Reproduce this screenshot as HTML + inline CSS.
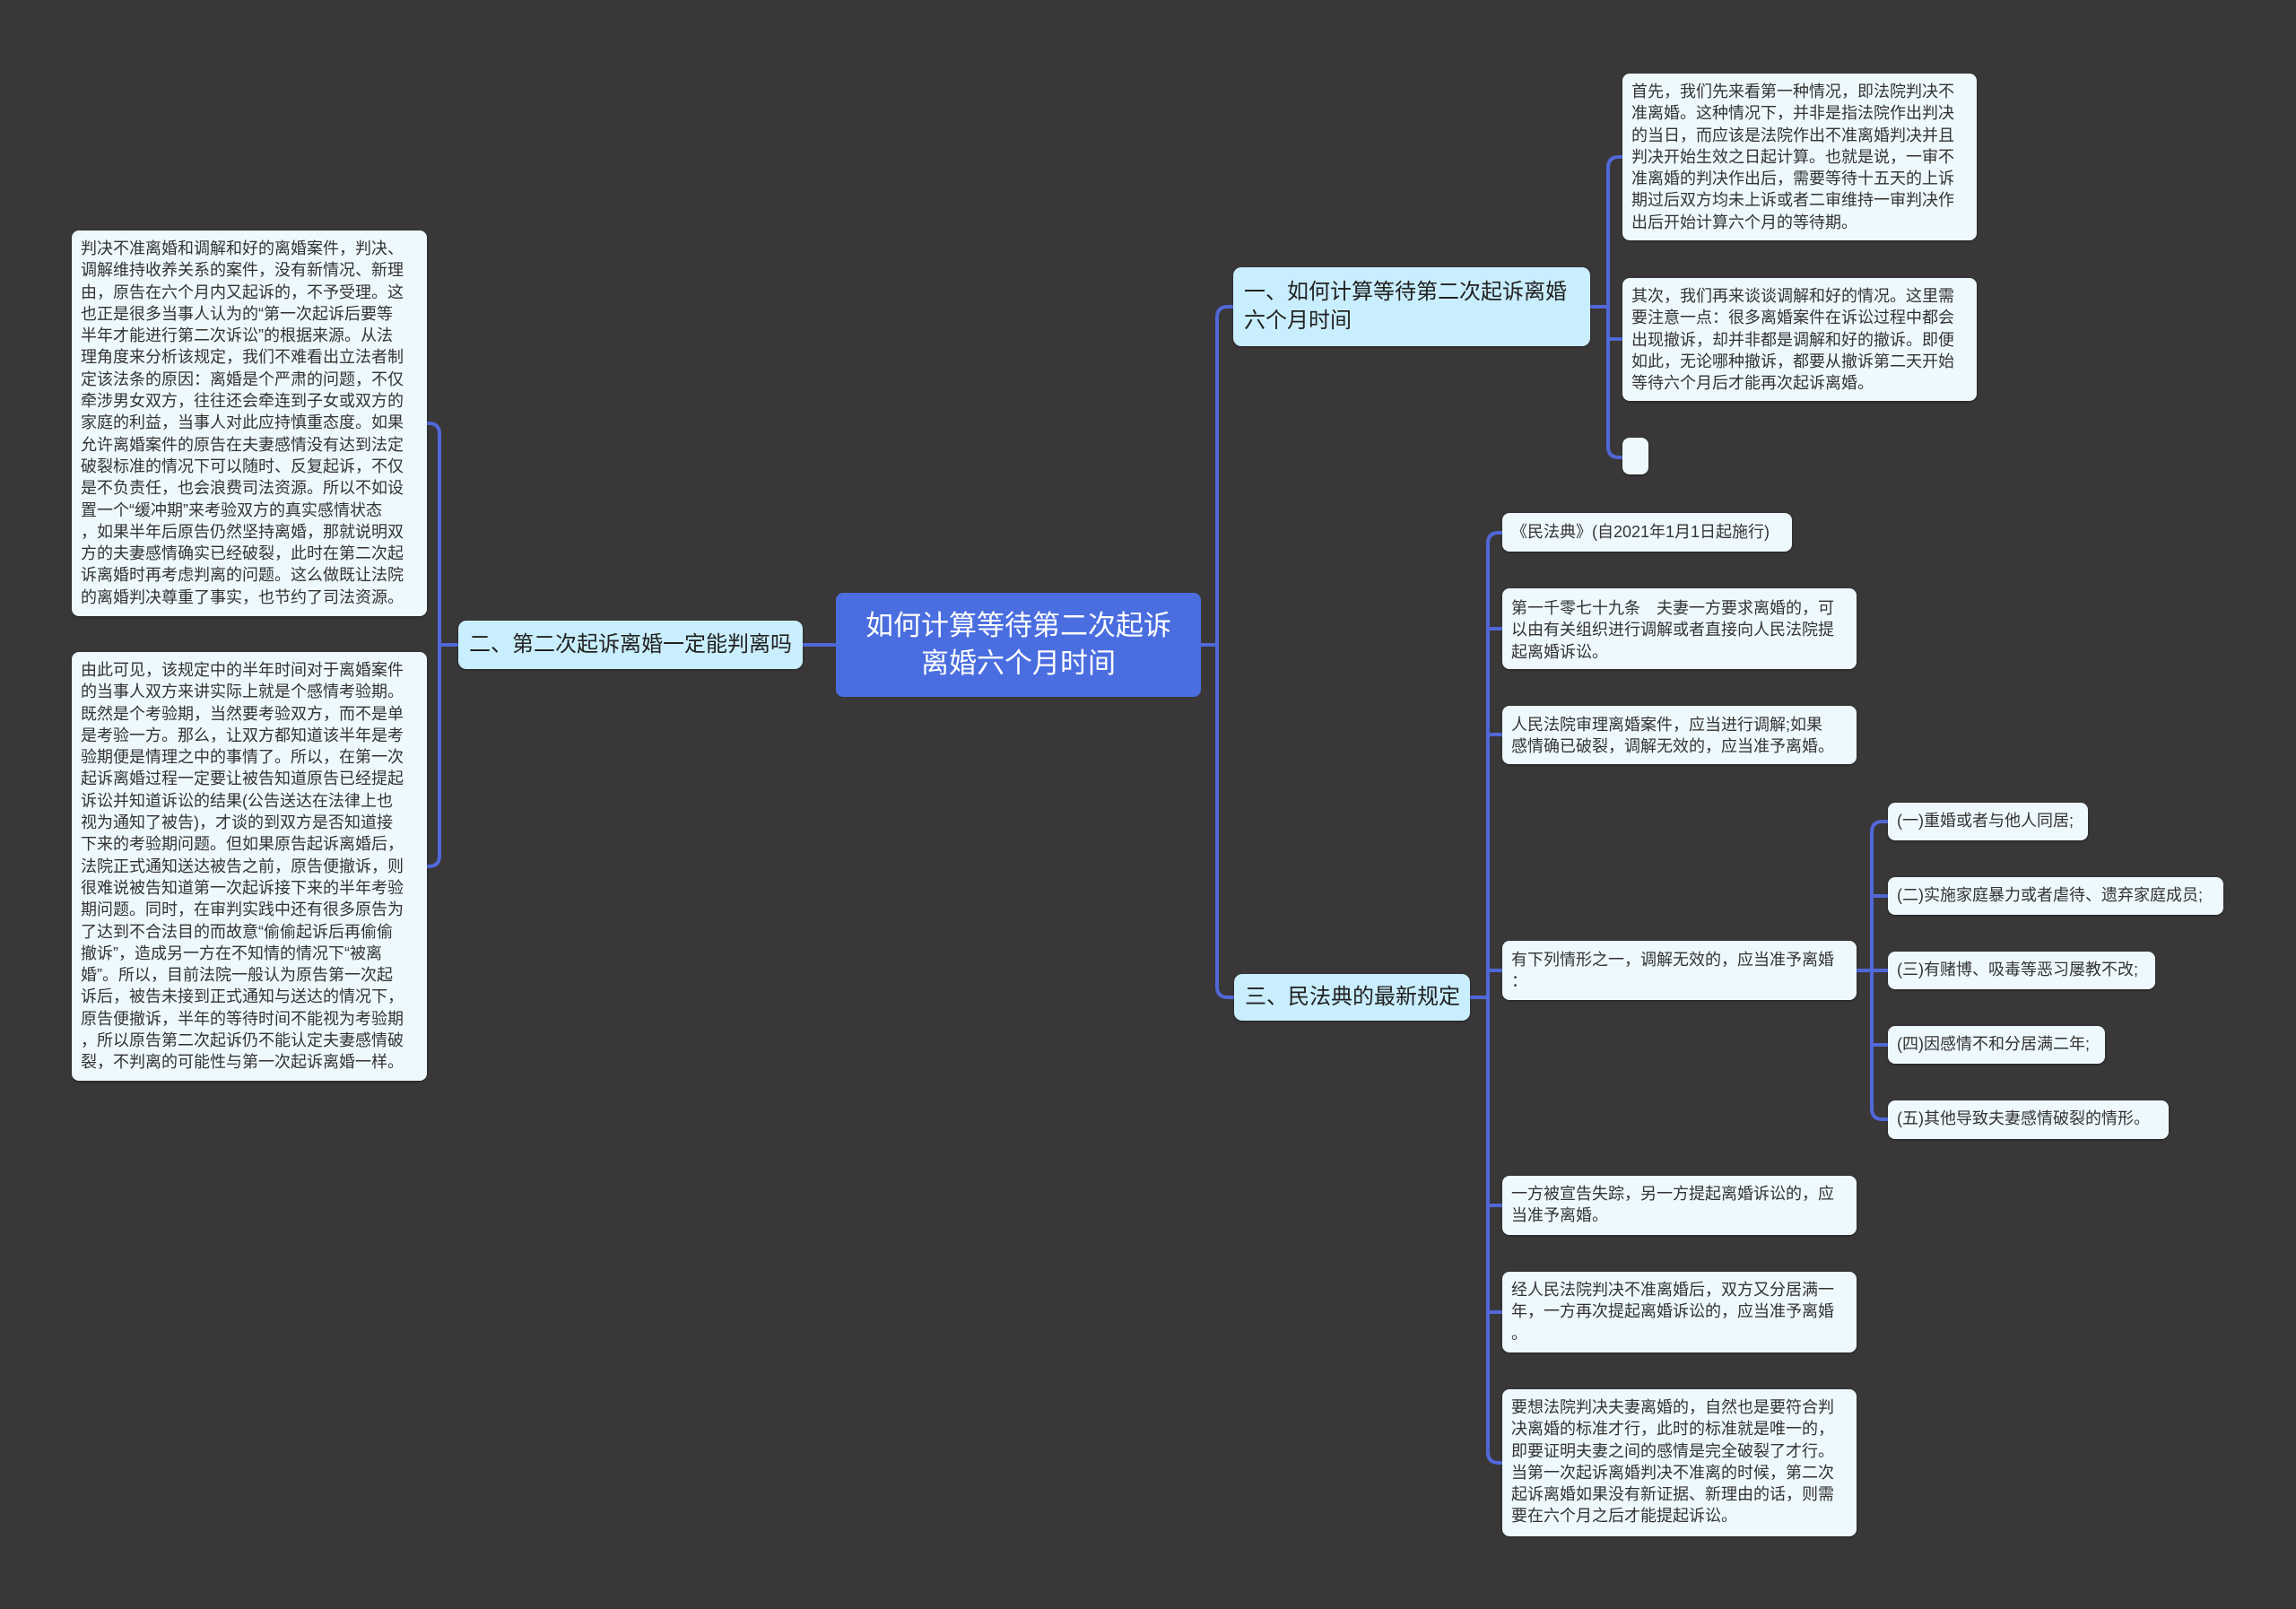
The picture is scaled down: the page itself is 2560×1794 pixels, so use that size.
<!DOCTYPE html>
<html><head><meta charset="utf-8">
<style>
html,body{margin:0;padding:0;}
body{width:2560px;height:1794px;background:#393738;position:relative;overflow:hidden;font-family:"Liberation Sans","Noto Sans CJK SC",sans-serif;}
.b{position:absolute;box-sizing:border-box;background:#eef9fd;border-radius:8px;color:#333;font-size:18px;line-height:24.3px;padding:8px 10px;white-space:nowrap;box-shadow:0 1px 2px rgba(0,0,0,.4);}
.br{position:absolute;box-sizing:border-box;background:#c9eefd;border-radius:9px;color:#222;font-size:24px;line-height:32px;padding:0 12px;white-space:nowrap;display:flex;align-items:center;box-shadow:0 1px 2px rgba(0,0,0,.4);}
.c{position:absolute;left:932px;top:661px;width:407px;height:116px;background:#4a6ee0;border-radius:8px;color:#fff;font-size:31px;line-height:42px;text-align:center;display:flex;align-items:center;justify-content:center;}
svg{position:absolute;left:0;top:0;}
</style></head><body>
<svg width="2560" height="1794" fill="none" stroke="#5068d8" stroke-width="4">
<path d="M1339 719 H1357"/>
<path d="M1375 342 H1369 Q1357 342 1357 354 V1100 Q1357 1112 1369 1112 H1376"/>
<path d="M932 719 H895"/>
<path d="M511 719 H490"/>
<path d="M476 472 H478 Q490 472 490 484 V954 Q490 966 478 966 H476"/>
<path d="M1773 342 H1793"/>
<path d="M1809 175 H1805 Q1793 175 1793 187 V498 Q1793 510 1805 510 H1809"/>
<path d="M1793 378 H1809"/>
<path d="M1639 1112 H1659"/>
<path d="M1675 594 H1671 Q1659 594 1659 606 V1619 Q1659 1631 1671 1631 H1675"/>
<path d="M1659 701 H1675 M1659 819 H1675 M1659 1082 H1675 M1659 1344 H1675 M1659 1463 H1675"/>
<path d="M2069 1082 H2087"/>
<path d="M2105 916 H2099 Q2087 916 2087 928 V1236 Q2087 1248 2099 1248 H2105"/>
<path d="M2087 999 H2105 M2087 1082 H2105 M2087 1165 H2105"/>
</svg>

<div class="c">如何计算等待第二次起诉<br>离婚六个月时间</div>

<div class="br" style="left:1375px;top:298px;width:398px;height:88px;">一、如何计算等待第二次起诉离婚<br>六个月时间</div>
<div class="br" style="left:511px;top:692px;width:384px;height:54px;">二、第二次起诉离婚一定能判离吗</div>
<div class="br" style="left:1376px;top:1086px;width:263px;height:52px;">三、民法典的最新规定</div>

<div class="b" style="left:1809px;top:82px;width:395px;height:186px;">首先，我们先来看第一种情况，即法院判决不<br>准离婚。这种情况下，并非是指法院作出判决<br>的当日，而应该是法院作出不准离婚判决并且<br>判决开始生效之日起计算。也就是说，一审不<br>准离婚的判决作出后，需要等待十五天的上诉<br>期过后双方均未上诉或者二审维持一审判决作<br>出后开始计算六个月的等待期。</div>
<div class="b" style="left:1809px;top:310px;width:395px;height:137px;">其次，我们再来谈谈调解和好的情况。这里需<br>要注意一点：很多离婚案件在诉讼过程中都会<br>出现撤诉，却并非都是调解和好的撤诉。即便<br>如此，无论哪种撤诉，都要从撤诉第二天开始<br>等待六个月后才能再次起诉离婚。</div>
<div class="b" style="left:1809px;top:488px;width:29px;height:41px;"></div>

<div class="b" style="left:80px;top:257px;width:396px;height:430px;">判决不准离婚和调解和好的离婚案件，判决、<br>调解维持收养关系的案件，没有新情况、新理<br>由，原告在六个月内又起诉的，不予受理。这<br>也正是很多当事人认为的“第一次起诉后要等<br>半年才能进行第二次诉讼”的根据来源。从法<br>理角度来分析该规定，我们不难看出立法者制<br>定该法条的原因：离婚是个严肃的问题，不仅<br>牵涉男女双方，往往还会牵连到子女或双方的<br>家庭的利益，当事人对此应持慎重态度。如果<br>允许离婚案件的原告在夫妻感情没有达到法定<br>破裂标准的情况下可以随时、反复起诉，不仅<br>是不负责任，也会浪费司法资源。所以不如设<br>置一个“缓冲期”来考验双方的真实感情状态<br>，如果半年后原告仍然坚持离婚，那就说明双<br>方的夫妻感情确实已经破裂，此时在第二次起<br>诉离婚时再考虑判离的问题。这么做既让法院<br>的离婚判决尊重了事实，也节约了司法资源。</div>
<div class="b" style="left:80px;top:727px;width:396px;height:478px;">由此可见，该规定中的半年时间对于离婚案件<br>的当事人双方来讲实际上就是个感情考验期。<br>既然是个考验期，当然要考验双方，而不是单<br>是考验一方。那么，让双方都知道该半年是考<br>验期便是情理之中的事情了。所以，在第一次<br>起诉离婚过程一定要让被告知道原告已经提起<br>诉讼并知道诉讼的结果(公告送达在法律上也<br>视为通知了被告)，才谈的到双方是否知道接<br>下来的考验期问题。但如果原告起诉离婚后，<br>法院正式通知送达被告之前，原告便撤诉，则<br>很难说被告知道第一次起诉接下来的半年考验<br>期问题。同时，在审判实践中还有很多原告为<br>了达到不合法目的而故意“偷偷起诉后再偷偷<br>撤诉”，造成另一方在不知情的情况下“被离<br>婚”。所以，目前法院一般认为原告第一次起<br>诉后，被告未接到正式通知与送达的情况下，<br>原告便撤诉，半年的等待时间不能视为考验期<br>，所以原告第二次起诉仍不能认定夫妻感情破<br>裂，不判离的可能性与第一次起诉离婚一样。</div>

<div class="b" style="left:1675px;top:572px;width:323px;height:43px;padding-top:9px;">《民法典》(自2021年1月1日起施行)</div>
<div class="b" style="left:1675px;top:656px;width:395px;height:90px;padding-top:10px;">第一千零七十九条　夫妻一方要求离婚的，可<br>以由有关组织进行调解或者直接向人民法院提<br>起离婚诉讼。</div>
<div class="b" style="left:1675px;top:787px;width:395px;height:65px;padding-top:9px;">人民法院审理离婚案件，应当进行调解;如果<br>感情确已破裂，调解无效的，应当准予离婚。</div>
<div class="b" style="left:1675px;top:1049px;width:395px;height:66px;padding-top:9px;">有下列情形之一，调解无效的，应当准予离婚<br>：</div>
<div class="b" style="left:1675px;top:1311px;width:395px;height:66px;">一方被宣告失踪，另一方提起离婚诉讼的，应<br>当准予离婚。</div>
<div class="b" style="left:1675px;top:1418px;width:395px;height:90px;">经人民法院判决不准离婚后，双方又分居满一<br>年，一方再次提起离婚诉讼的，应当准予离婚<br>。</div>
<div class="b" style="left:1675px;top:1549px;width:395px;height:164px;">要想法院判决夫妻离婚的，自然也是要符合判<br>决离婚的标准才行，此时的标准就是唯一的，<br>即要证明夫妻之间的感情是完全破裂了才行。<br>当第一次起诉离婚判决不准离的时候，第二次<br>起诉离婚如果没有新证据、新理由的话，则需<br>要在六个月之后才能提起诉讼。</div>

<div class="b" style="left:2105px;top:895px;width:223px;height:42px;">(一)重婚或者与他人同居;</div>
<div class="b" style="left:2105px;top:978px;width:374px;height:42px;">(二)实施家庭暴力或者虐待、遗弃家庭成员;</div>
<div class="b" style="left:2105px;top:1061px;width:298px;height:42px;">(三)有赌博、吸毒等恶习屡教不改;</div>
<div class="b" style="left:2105px;top:1144px;width:242px;height:42px;">(四)因感情不和分居满二年;</div>
<div class="b" style="left:2105px;top:1227px;width:313px;height:43px;">(五)其他导致夫妻感情破裂的情形。</div>
</body></html>
